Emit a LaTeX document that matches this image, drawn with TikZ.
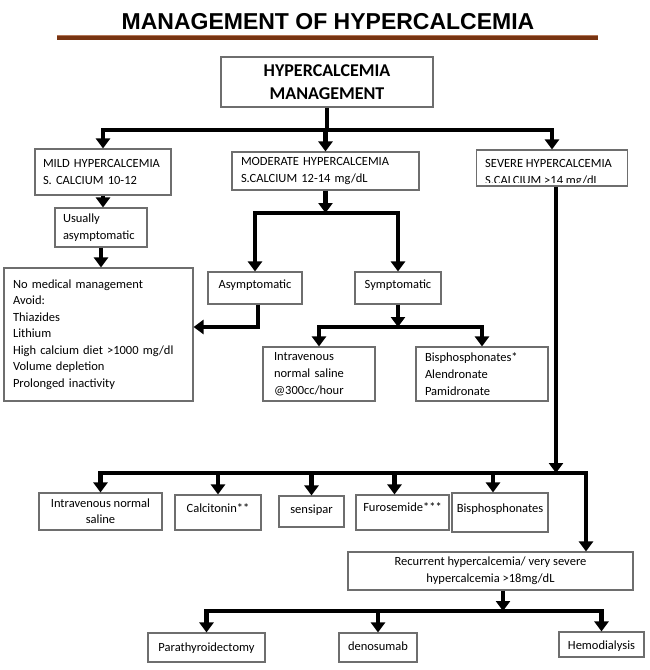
\documentclass[tikz,border=0pt]{standalone}
\usepackage{fontspec}
\setmainfont{Carlito}
\newfontfamily\titlefont{Liberation Sans}
\usetikzlibrary{arrows.meta}
\definecolor{rulebrown}{RGB}{120,52,18}
\definecolor{rulelight}{RGB}{178,118,88}
\definecolor{boxgray}{RGB}{110,110,110}
\tikzset{
  box/.style={draw=boxgray, line width=1.1pt, fill=white, inner ysep=2pt,
              font=\fontsize{12.5}{17}\selectfont},
  lbox/.style={box, align=left, inner xsep=#1},
  lbox/.default=8pt,
  cbox/.style={box, align=center, inner xsep=2pt},
  tb/.style={text height=9pt, text depth=#1},
  conn/.style={line width=4.6pt, line join=miter},
  arr/.style={conn, -{Triangle[width=14pt,length=10pt]}},
  titletext/.style={font=\titlefont\bfseries\fontsize{23}{27}\selectfont},
}
\begin{document}
\begin{tikzpicture}[x=1pt,y=-1pt]
\useasboundingbox (0,0) rectangle (650,670);

% title and rule
\node[titletext] (title) at (328,22) {MANAGEMENT OF HYPERCALCEMIA};
\draw[line width=5pt, rulebrown] (57,37.5) -- (598,37.5);
\draw[line width=1.4pt, rulelight] (57,35.6) -- (598,35.6);

% boxes
\node[cbox, font=\bfseries\fontsize{18}{23}\selectfont, minimum width=212pt, minimum height=50pt] (top) at (327,82) {HYPERCALCEMIA\\MANAGEMENT};

\node[lbox=8pt, text width=120pt, minimum height=46pt] (mild) at (103,172) {MILD HYPERCALCEMIA\\S. CALCIUM 10-12};
\node[lbox=9pt, text width=169pt, minimum height=38pt] (moderate) at (325.5,171) {MODERATE HYPERCALCEMIA\\S.CALCIUM 12-14 mg/dL};
\node[box, minimum width=151pt, minimum height=36pt] (severe) at (552,168) {};
\begin{scope}
  \clip (470,140) rectangle (633,182);
  \node[font=\fontsize{12.5}{17}\selectfont, align=left, anchor=west, inner sep=0pt] (severetext) at (485,172.8) {SEVERE HYPERCALCEMIA\\S.CALCIUM >14 mg/dL};
\end{scope}

\node[lbox=8pt, text width=76pt, minimum height=39pt] (usually) at (101,227.5) {Usually\\asymptomatic};
\node[lbox=9pt, text width=171pt, minimum height=133pt, font=\fontsize{12.5}{16.5}\selectfont] (nomed) at (98.5,334.5) {No medical management\\Avoid:\\Thiazides\\Lithium\\High calcium diet >1000 mg/dl\\Volume depletion\\Prolonged inactivity};

\node[cbox, tb=9pt, minimum width=94pt, minimum height=32pt] (asym) at (255,288) {Asymptomatic};
\node[cbox, tb=9pt, minimum width=86pt, minimum height=32pt] (sym) at (398,288) {Symptomatic};

\node[lbox=11pt, text width=90pt, minimum height=54pt] (iv1) at (319,374) {Intravenous\\normal saline\\@300cc/hour};
\node[lbox=9pt, text width=114pt, minimum height=54pt] (bis1) at (482,374) {Bisphosphonates*\\Alendronate\\Pamidronate};

\node[cbox, minimum width=123pt, minimum height=37pt, font=\fontsize{12.5}{16}\selectfont] (iv2) at (100.5,511.5) {Intravenous normal\\saline};
\node[cbox, tb=10pt, minimum width=86pt, minimum height=35pt] (calc) at (218,512.5) {Calcitonin**};
\node[cbox, tb=6pt, minimum width=65pt, minimum height=31pt] (sens) at (311.5,511.5) {sensipar};
\node[cbox, tb=12pt, minimum width=93pt, minimum height=35pt] (furo) at (402.5,512.5) {Furosemide***};
\node[cbox, tb=10pt, minimum width=96pt, minimum height=39pt] (bis2) at (500,512.5) {Bisphosphonates};

\node[cbox, minimum width=285pt, minimum height=38pt] (recur) at (490.5,571) {Recurrent hypercalcemia/ very severe\\hypercalcemia >18mg/dL};

\node[cbox, tb=2pt, minimum width=117pt, minimum height=29pt] (para) at (206.5,647.5) {Parathyroidectomy};
\node[cbox, tb=4pt, minimum width=78pt, minimum height=29pt] (deno) at (378,647.5) {denosumab};
\node[cbox, tb=0pt, minimum width=85pt, minimum height=25pt] (hemo) at (601.5,644.5) {Hemodialysis};

% junction points
\coordinate (j1) at (327,130);
\coordinate (j2) at (325.5,213);
\coordinate (j3) at (398,327);
\coordinate (j4) at (556,473);
\coordinate (j4r) at (586,473);
\coordinate (j5) at (503,611);

% connectors
\draw[conn] (top.south) -- (j1);
\draw[arr] (j1) -| (mild.north);
\draw[arr] (j1) -| (moderate.north);
\draw[arr] (j1) -| (severe.north);

\draw[arr] (mild.south) -- (mild.south |- usually.north);
\draw[arr] (usually.south) -- (usually.south |- nomed.north);

\draw[arr] (moderate.south) -- (j2);
\draw[arr] (j2) -| (asym.north);
\draw[arr] (j2) -| (sym.north);
\draw[arr] ([xshift=3pt]asym.south) |- ([yshift=7.5pt]nomed.east);

\draw[arr] (sym.south) -- (j3);
\draw[arr] (j3) -| (iv1.north);
\draw[arr] (j3) -| (bis1.north);

\draw[arr] (severe.south -| j4) -- (j4);
\draw[arr] (j4) -| (iv2.north);
\draw[arr] (j4) -| (calc.north);
\draw[arr] (j4) -| (sens.north);
\draw[arr] (j4) -| ([xshift=-8pt]furo.north);
\draw[arr] (j4) -| ([xshift=-7pt]bis2.north);
\draw[arr] (j4) -| (j4r |- recur.north);

\draw[arr] (recur.south -| j5) -- (j5);
\draw[arr] (j5) -| (para.north);
\draw[arr] (j5) -| (deno.north);
\draw[arr] (j5) -| (hemo.north);
\end{tikzpicture}
\end{document}
